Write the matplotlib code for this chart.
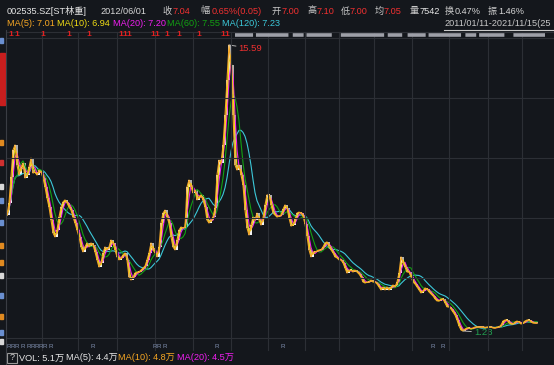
import matplotlib
matplotlib.use('Agg')
import matplotlib.pyplot as plt
import numpy as np
import pandas as pd
from matplotlib.lines import Line2D
from matplotlib.patches import Rectangle

plt.rcParams['font.family'] = ['Liberation Sans', 'Noto Sans CJK SC', 'DejaVu Sans']

# ---------------- data (bi-weekly sampled closes, 2011/01/11 - 2021/11/15) ----------------
closes = [
    7.05, 7.66, 8.96, 10.32, 10.57, 9.56, 9.06, 9.46, 9.66, 8.91,
    9.06, 9.46, 9.91, 9.16, 9.21, 9.06, 9.31, 9.21, 8.91, 8.46,
    7.91, 7.45, 6.80, 6.15, 5.95, 6.30, 6.95, 7.45, 7.71, 7.81,
    7.66, 7.45, 7.30, 6.95, 6.65, 6.30, 5.95, 5.45, 5.20, 5.45,
    5.65, 5.45, 5.65, 5.55, 5.20, 4.80, 4.44, 4.65, 5.15, 5.45,
    5.30, 5.45, 5.80, 5.65, 5.30, 4.95, 4.80, 4.90, 5.05, 5.15,
    4.80, 3.94, 3.79, 3.94, 4.14, 4.19, 4.19, 4.29, 4.39, 4.49,
    4.80, 5.15, 5.65, 5.30, 5.15, 4.95, 5.45, 6.65, 7.15, 7.30,
    6.95, 6.65, 5.95, 5.45, 5.30, 5.80, 6.30, 6.45, 6.40, 6.45,
    8.46, 8.81, 8.46, 8.16, 8.31, 7.81, 7.96, 8.06, 7.81, 7.45,
    6.80, 6.65, 6.80, 6.95, 7.40, 9.06, 9.81, 9.66, 10.57, 12.07,
    13.83, 15.59, 14.58, 12.07, 9.56, 9.31, 9.56, 9.06, 8.56, 7.30,
    6.40, 6.05, 6.55, 6.95, 6.80, 7.15, 6.80, 6.55, 6.90, 7.56,
    8.06, 8.06, 7.56, 7.15, 7.05, 6.95, 7.00, 7.05, 7.35, 7.56,
    7.40, 6.90, 6.50, 6.55, 6.85, 7.15, 7.20, 7.15, 7.00, 6.60,
    6.00, 5.30, 4.95, 5.20, 5.20, 5.25, 5.30, 5.30, 5.45, 5.65,
    5.70, 5.45, 5.30, 5.15, 4.95, 4.90, 4.80, 4.80, 4.65, 4.39,
    4.14, 4.29, 4.29, 4.19, 4.29, 4.19, 4.09, 3.94, 3.69, 3.64,
    3.69, 3.69, 3.79, 3.69, 3.69, 3.59, 3.44, 3.29, 3.44, 3.29,
    3.44, 3.29, 3.44, 3.54, 3.44, 3.69, 4.14, 4.95, 4.65, 4.44,
    4.19, 4.19, 3.94, 3.69, 3.59, 3.44, 3.29, 3.14, 3.24, 3.39,
    3.34, 3.19, 3.09, 2.99, 2.84, 2.74, 2.74, 2.84, 2.84, 2.64,
    2.44, 2.44, 2.33, 2.18, 2.03, 1.78, 1.48, 1.28, 1.23, 1.33,
    1.38, 1.38, 1.33, 1.38, 1.43, 1.43, 1.43, 1.43, 1.43, 1.38,
    1.43, 1.43, 1.43, 1.38, 1.38, 1.43, 1.43, 1.53, 1.73, 1.78,
    1.78, 1.63, 1.58, 1.58, 1.68, 1.73, 1.68, 1.58, 1.63, 1.73,
    1.78, 1.78, 1.68, 1.63, 1.63, 1.63,
]

ma_labels = ['MA(5)', 'MA(10)', 'MA(20)', 'MA(60)', 'MA(120)']
ma_values = ['7.01', '6.94', '7.20', '7.55', '7.23']
ma_windows = [1, 2, 3, 6, 12]   # in bi-weekly samples

header_labels = ['收', '幅', '开', '高', '低', '均', '量', '换', '振']
header_values = ['7.04', '0.65%(0.05)', '7.00', '7.10', '7.00', '7.05', '7542', '0.47%', '1.46%']

vol_labels = ['VOL: 5.1万', 'MA(5): 4.4万', 'MA(10): 4.8万', 'MA(20): 4.5万']

# event markers (sample indices)
red_events = [2, 5, 18, 31, 41, 57, 59, 61, 73, 75, 80, 86, 96, 108, 110]
r_events = [1, 3, 5, 8, 11, 13, 15, 17, 19, 22, 43, 74, 76, 79, 105, 138, 213, 218]

# ---------------- style ----------------
W, H = 554, 365
BG = '#14171c'
GRID = '#2c2f35'
ma_colors = ['#f5a623', '#f0dc14', '#f01ef0', '#12a012', '#3cc8d8']
RED = '#f03030'

fig = plt.figure(figsize=(W / 100, H / 100), dpi=100)
fig.patch.set_facecolor(BG)


def fx(px):
    return px / W


def fy(py):
    return 1 - py / H


def fline(x0, y0, x1, y1, color=GRID, lw=0.8, **kw):
    fig.add_artist(Line2D([fx(x0), fx(x1)], [fy(y0), fy(y1)], color=color, lw=lw, **kw))


# grid lines
for py in [32, 38, 98, 158, 218, 278, 338]:
    fline(6, py, W, py)
for px in [42, 78, 117, 155, 193, 231, 268, 305, 339, 374, 412, 449, 488, 522]:
    fline(px, 32, px, 350)
fline(6, 30, 6, 365, color='#3a3d44')

# left strip
fig.add_artist(Rectangle((0, fy(105)), fx(5), (105 - 53) / H, color='#c81e1e', transform=fig.transFigure))
for py, c in [(40, '#6a8fd0'), (142, '#e08a20'), (162, '#d03030'), (186, '#d8d8d8'), (200, '#6a8fd0'),
              (222, '#6a8fd0'), (245, '#e08a20'), (262, '#e08a20'), (275, '#d8d8d8'), (295, '#6a8fd0'),
              (316, '#e08a20'), (332, '#6a8fd0'), (341, '#d8d8d8')]:
    fig.add_artist(Rectangle((0, fy(py + 3)), fx(3), 5 / H, color=c, transform=fig.transFigure))

# main axes
ax = fig.add_axes([fx(6), fy(338), fx(548), 300 / H])
ax.set_facecolor('none')
ax.set_xlim(-0.5, 273.5)
ax.set_ylim(0.879, 15.94)
for s in ax.spines.values():
    s.set_visible(False)
ax.set_xticks([])
ax.set_yticks([])

close = np.array(closes)
open_ = np.r_[close[0], close[:-1]]
idx = np.arange(len(close))
up = close >= open_
body_h = np.maximum(np.abs(close - open_), 0.07)
bottom = np.minimum(close, open_)
ax.bar(idx[up], body_h[up], bottom=bottom[up], width=0.9, color='#f2f2f2', linewidth=0)
ax.bar(idx[~up], body_h[~up], bottom=bottom[~up], width=0.9, color='#b0b0b0', linewidth=0)

s = pd.Series(close)
for w, c in list(zip(ma_windows, ma_colors))[::-1]:
    ax.plot(idx, s.rolling(w, min_periods=1).mean(), color=c, lw=0.8)

imax, imin = int(np.argmax(close)), int(np.argmin(close))
ax.annotate(f'{close[imax]:.2f}', xy=(imax, close[imax]), xytext=(7, -2.5), textcoords='offset points',
            color=RED, fontsize=6.8, ha='left', va='center',
            arrowprops=dict(arrowstyle='-', color='#b0b0b0', lw=0.7, shrinkA=0, shrinkB=0))
ax.annotate(f'{close[imin]:.2f}', xy=(imin, close[imin]), xytext=(8, -1), textcoords='offset points',
            color='#22a050', fontsize=6.8, ha='left', va='center',
            arrowprops=dict(arrowstyle='-', color='#b0b0b0', lw=0.7, shrinkA=0, shrinkB=0))

# top event band
for e in red_events:
    fig.text(fx(7 + 2 * e), fy(35), '1', color='#e02020', fontsize=6, ha='center', va='center',
             fontweight='bold')
fline(235, 35, 545, 35, color='#9ea0a8', lw=2.6, dashes=(5, 0.8, 9, 1.2, 3, 0.8, 7, 2.5, 12, 1, 4, 1.5))

# bottom event band
for e in r_events:
    fig.text(fx(7 + 2 * e), fy(346), 'R', color='#8090b0', fontsize=4.5, ha='center', va='center')

# header row 1
fs = 6.6
fig.text(fx(7), fy(11), '002535.SZ[ST林重]', color='#e6e6e6', fontsize=fs, va='center')
fig.text(fx(100), fy(11), '2012/06/01', color='#d6d6d6', fontsize=fs, va='center')
lab_x = [162, 200, 272, 308, 341, 375, 410, 445, 488]
val_x = [173, 212, 282, 317, 350, 384, 420, 455, 498]
val_c = [RED, RED, RED, RED, RED, RED, '#e6e6e6', '#d6d6d6', '#d6d6d6']
for lab, val, lx, vx, vc in zip(header_labels, header_values, lab_x, val_x, val_c):
    fig.text(fx(lx), fy(11), lab, color='#c8c8c8', fontsize=fs, va='center')
    fig.text(fx(vx), fy(11), val, color=vc, fontsize=fs, va='center')

# header row 2: MA values
for lab, val, c, px in zip(ma_labels, ma_values, ma_colors, [7, 57, 113, 167, 222]):
    fig.text(fx(px), fy(24), f'{lab}: {val}', color=c, fontsize=fs, va='center')
fig.text(fx(444), fy(24), '2011/01/11-2021/11/15(25', color='#c8c8c8', fontsize=fs, va='center')
fline(444, 30, W, 30, color='#c8c8c8', lw=0.8)

# bottom row
fig.add_artist(Rectangle((fx(7), fy(363)), fx(10), 10 / H, fill=False, edgecolor='#9a9a9a', lw=0.8,
                         transform=fig.transFigure))
fig.text(fx(12), fy(358), '?', color='#d0d0d0', fontsize=6.5, ha='center', va='center')
for lab, c, px in zip(vol_labels, ['#e6e6e6', '#e6e6e6', ma_colors[0], ma_colors[2]], [19, 66, 118, 177]):
    fig.text(fx(px), fy(358), lab, color=c, fontsize=fs, va='center')

fig.savefig('out.png', dpi=100, facecolor=BG)
